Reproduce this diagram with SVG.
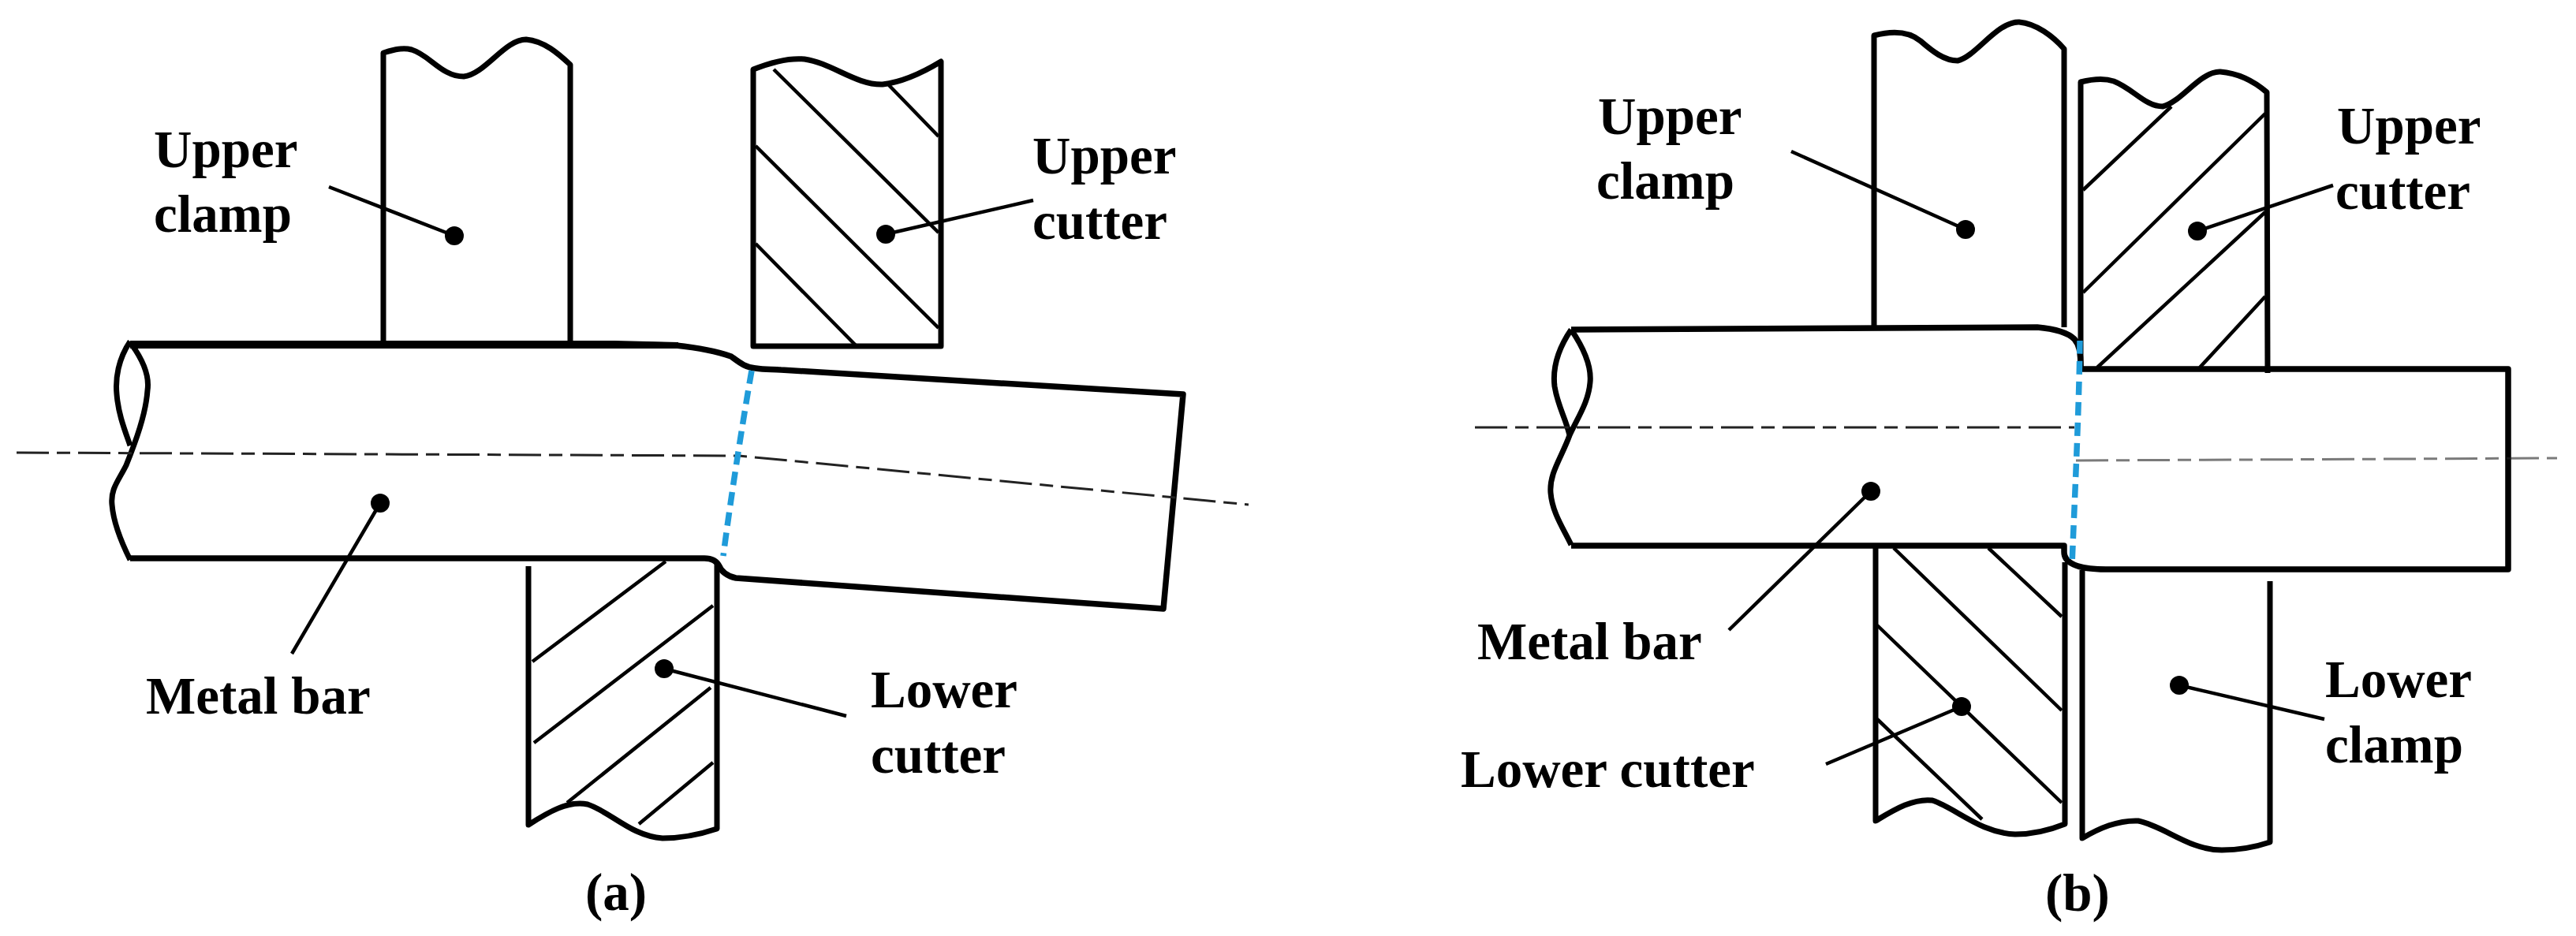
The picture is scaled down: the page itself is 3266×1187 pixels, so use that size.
<svg xmlns="http://www.w3.org/2000/svg" width="3266" height="1187" viewBox="0 0 3266 1187">
<style>
.o{fill:none;stroke:#000;stroke-width:7;stroke-linejoin:round}
.b{fill:none;stroke:#000;stroke-width:7.5;stroke-linejoin:round}
.t{fill:#000;stroke:none}
.h{fill:none;stroke:#000;stroke-width:4.5}
.l{fill:none;stroke:#000;stroke-width:4.5}
.c{fill:none;stroke:#222;stroke-width:3;stroke-dasharray:41 10 17 10}
.s{fill:none;stroke:#1f9bd9;stroke-width:7.5;stroke-dasharray:17 9}
.d{fill:#000}
text{font-family:"Liberation Serif","Times New Roman",serif;font-weight:700;font-size:67px;fill:#000}
</style>
<rect width="3266" height="1187" fill="#fff"/>
<g id="a-upper-clamp">
<path class="o" d="M486 435V67C500 63 510 60 522 63C545 70 560 97 588 97C615 94 640 50 667 50C690 52 708 68 723 82V435"/>
<text x="195" y="212">Upper</text><text x="195" y="294">clamp</text>
</g>
<g id="a-upper-cutter">
<path class="o" d="M955 88C980 78 1000 73 1020 75C1055 80 1085 108 1119 107C1145 104 1170 92 1193 78V439H955Z"/>
<path class="h" d="M981 88L1190 295M1127 108L1190 173M958 185L1190 416M958 309L1085 438"/>
<text x="1309" y="220">Upper</text><text x="1309" y="303">cutter</text>
</g>
<g id="a-lower-cutter">
<path class="o" d="M670 718V1046C695 1030 720 1015 745 1020C775 1030 800 1060 840 1063C865 1063 888 1058 909 1051V715"/>
<path class="h" d="M844 712L675 839M904 768L677 942M901 872L719 1018M904 967L810 1045"/>
<text x="1104" y="897">Lower</text><text x="1104" y="980">cutter</text>
</g>
<g id="a-metal-bar">
<path class="b" d="M800 437L857 438C885 441 910 446 927 452C938 460 945 466 958 467C970 469 980 468 990 469L1500 500L1475 772L933 733C922 731 914 724 912 718C908 710 900 708 893 708H165"/>
<path class="t" d="M165 432H780L860 434V442L780 442H165Z"/>
<path class="o" d="M165 433C150 455 146 480 148 500C150 525 158 545 165 565M167 437C180 455 190 475 187 495C185 525 172 560 160 590C150 610 140 620 142 640C144 665 155 690 165 710"/>
<path class="c" d="M21 574L937 578L1583 640"/>
<path class="s" d="M953 470C945 515 928 620 917 705"/>
<text x="185" y="905">Metal bar</text>
</g>
<g id="a-caption"><text x="781" y="1154" text-anchor="middle">(a)</text></g>
<g id="b-upper-clamp">
<path class="o" d="M2376 415V45C2395 40 2418 38 2435 52C2450 65 2465 77 2482 77C2505 72 2532 27 2560 28C2582 30 2603 46 2617 62V415"/>
<text x="2026" y="170">Upper</text><text x="2024" y="252">clamp</text>
</g>
<g id="b-upper-cutter">
<path class="o" d="M2638 466V104C2650 101 2665 98 2680 103C2705 113 2720 135 2742 135C2765 130 2790 90 2815 91C2840 93 2860 105 2874 117L2875 473"/>
<path class="h" d="M2753 135L2641 241M2872 144L2641 371M2872 269L2659 466M2872 376L2789 466"/>
<text x="2963" y="182">Upper</text><text x="2961" y="265">cutter</text>
</g>
<g id="b-lower-cutter">
<path class="o" d="M2378 693V1041C2400 1028 2425 1012 2450 1015C2480 1025 2510 1056 2555 1058C2578 1058 2598 1053 2618 1045V713"/>
<path class="h" d="M2401 695L2614 901M2521 695L2614 782M2380 793L2614 1018M2380 912L2513 1039"/>
<text x="1852" y="998">Lower cutter</text>
</g>
<g id="b-lower-clamp">
<path class="o" d="M2640 723V1063C2662 1050 2685 1040 2711 1041C2745 1048 2775 1078 2817 1078C2838 1078 2860 1074 2878 1068V737"/>
<text x="2948" y="884">Lower</text><text x="2948" y="967">clamp</text>
</g>
<g id="b-metal-bar">
<path class="b" d="M1992 418L2583 415C2605 417 2622 422 2630 430C2636 437 2638 445 2638 468H3180V722H2670C2645 722 2617 718 2617 700V692H1992"/>
<path class="o" d="M1992 418C1977 440 1968 465 1971 490C1975 515 1985 530 1990 552C1980 580 1964 600 1966 625C1968 650 1982 670 1992 691M1992 418C2007 440 2018 465 2016 485C2014 510 2000 530 1990 552"/>
<path class="c" d="M1870 542H2630"/>
<path class="c" stroke-opacity=".6" d="M2632 584L3242 581"/>
<path class="s" d="M2637 432C2636 520 2630 640 2627 717"/>
<text x="1873" y="836">Metal bar</text>
</g>
<g id="b-caption"><text x="2634" y="1155" text-anchor="middle">(b)</text></g>
<g id="connectors">
<path class="l" d="M417 237L576 299M1310 254L1123 297M370 829L482 638M1073 908L842 848M2271 192L2492 291M2958 235L2786 293M2192 799L2372 623M2315 969L2487 896M2947 912L2763 869"/>
<circle class="d" cx="576" cy="299" r="12"/><circle class="d" cx="1123" cy="297" r="12"/><circle class="d" cx="482" cy="638" r="12"/><circle class="d" cx="842" cy="848" r="12"/>
<circle class="d" cx="2492" cy="291" r="12"/><circle class="d" cx="2786" cy="293" r="12"/><circle class="d" cx="2372" cy="623" r="12"/><circle class="d" cx="2487" cy="896" r="12"/><circle class="d" cx="2763" cy="869" r="12"/>
</g>
</svg>
